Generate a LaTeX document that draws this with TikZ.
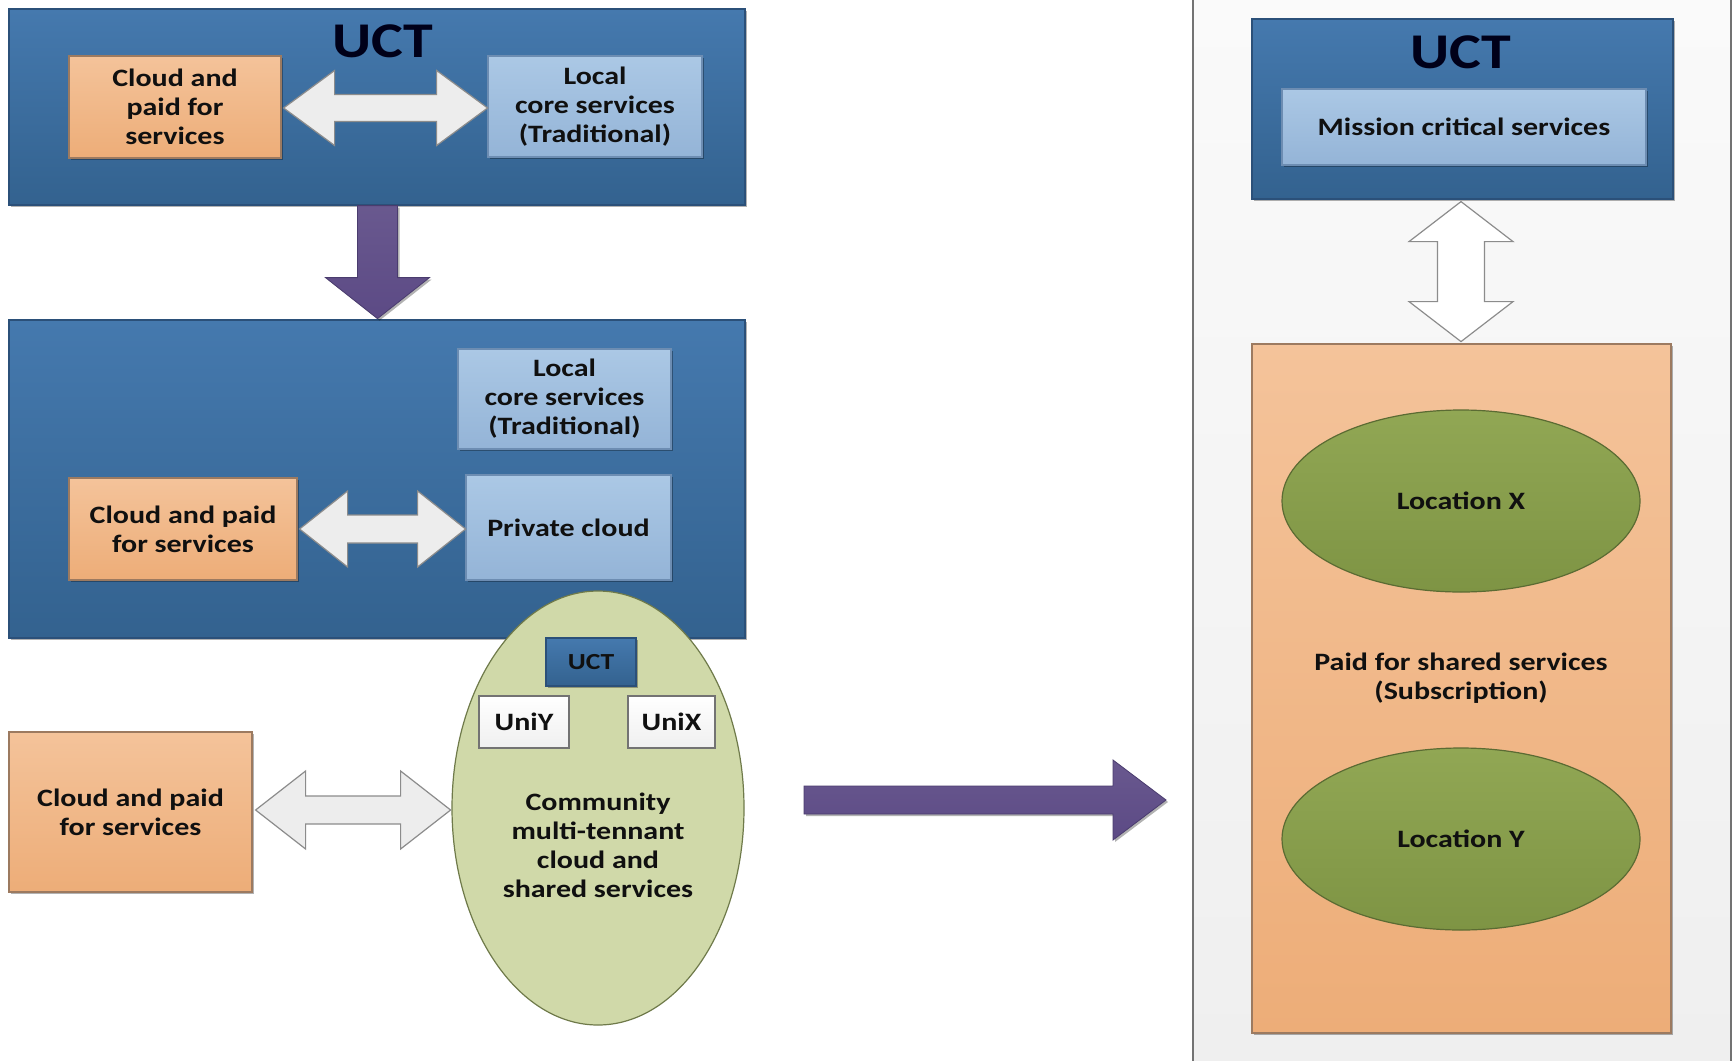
\documentclass[tikz,border=0pt]{standalone}
\usepackage{fontspec}
\setmainfont{Carlito}[FakeStretch=1.2]
\usetikzlibrary{shapes.geometric,calc,shadows}
\definecolor{dbtop}{HTML}{4579AE}
\definecolor{dbbot}{HTML}{33628F}
\definecolor{dbline}{HTML}{2B5079}
\definecolor{ortop}{HTML}{F4C39A}
\definecolor{orbot}{HTML}{EDAD78}
\definecolor{orline}{HTML}{9C7A60}
\definecolor{lbtop}{HTML}{ABC8E5}
\definecolor{lbbot}{HTML}{94B4D7}
\definecolor{lbline}{HTML}{6D8DB2}
\definecolor{commfill}{HTML}{D0D9A9}
\definecolor{commline}{HTML}{6F7A4A}
\definecolor{gtop}{HTML}{91A754}
\definecolor{gbot}{HTML}{7E9444}
\definecolor{gline}{HTML}{5B6B33}
\definecolor{purp}{HTML}{5C4A85}
\definecolor{purpline}{HTML}{4A3C6E}
\definecolor{arrfill}{HTML}{EDEDED}
\definecolor{arrline}{HTML}{8C8C8C}
\definecolor{txt}{HTML}{101010}
\definecolor{paneltop}{HTML}{FAFAFA}
\definecolor{panelbot}{HTML}{EFEFEF}
\newcommand{\hdarrow}[6]{\draw[#6] (#1) -- ++(#3,-#4) -- ++(0,#4-#5) -- ++(#2-2*#3,0) -- ++(0,-#4+#5) -- ++(#3,#4) -- ++(-#3,#4) -- ++(0,-#4+#5) -- ++(-#2+2*#3,0) -- ++(0,#4-#5) -- cycle;}
\newcommand{\vdarrow}[6]{\draw[#6] (#1) -- ++(#4,#3) -- ++(-#4+#5,0) -- ++(0,#2-2*#3) -- ++(#4-#5,0) -- ++(-#4,#3) -- ++(-#4,-#3) -- ++(#4-#5,0) -- ++(0,-#2+2*#3) -- ++(-#4+#5,0) -- cycle;}
\tikzset{
  shad/.style={drop shadow={shadow xshift=2pt,shadow yshift=-2pt,opacity=0.3,fill=black}},
  basetext/.style={align=center,text=txt,font=\fontsize{25}{29}\selectfont\bfseries,inner sep=0pt},
  bluebox/.style={rectangle,draw=dbline,line width=1.2pt,top color=dbtop,bottom color=dbbot,shad,basetext},
  orbox/.style={rectangle,draw=orline,line width=1.2pt,top color=ortop,bottom color=orbot,shad,basetext},
  lbbox/.style={rectangle,draw=lbline,line width=1.2pt,top color=lbtop,bottom color=lbbot,shad,basetext},
  unibox/.style={rectangle,draw=black!55,line width=1.2pt,top color=white,bottom color=black!6,basetext},
  commell/.style={ellipse,draw=commline,line width=1.2pt,fill=commfill,inner sep=0pt},
  locell/.style={ellipse,draw=gline,line width=1.2pt,top color=gtop,bottom color=gbot,basetext},
  title/.style={basetext,text=black!90!blue,font=\fontsize{50}{56}\selectfont\bfseries},
  plain/.style={basetext},
  lightarrow/.style={draw=arrline,line width=1.2pt,fill=arrfill,line join=miter},
  purparrow/.style={draw=purpline,line width=0.8pt,top color=purp!92!white,bottom color=purp,line join=miter,shad},
}
\begin{document}
\begin{tikzpicture}[x=1pt,y=-1pt]
\useasboundingbox[fill=white] (0,0) rectangle (1736,1060);
% ---------- left column ----------
\node[bluebox,minimum width=736pt,minimum height=196pt] (box1) at (377,107) {};
\node[title] (uct1) at (383,41) {UCT};
\node[orbox,minimum width=212pt,minimum height=102pt] (c1) at (175,107) {Cloud and\\paid for\\services};
\node[lbbox,minimum width=214pt,minimum height=101pt] (l1) at (595,106.5) {Local\\core services\\(Traditional)};
\hdarrow{$(c1.east)+(2,1)$}{204}{51}{37.5}{13.5}{lightarrow}

\node[bluebox,minimum width=736pt,minimum height=318pt] (box2) at (377,479) {};
% purple down arrow box1 -> box2
\draw[purparrow] ($(box1.south)+(0.5,0)$) ++(-20,0) -- ++(0,72) -- ++(-32,0) -- ++(52,41) -- ++(52,-41) -- ++(-32,0) -- ++(0,-72) -- cycle;

\node[lbbox,minimum width=213pt,minimum height=100pt] (l2) at (564.5,399) {Local\\core services\\(Traditional)};
\node[orbox,minimum width=228pt,minimum height=102pt] (c2) at (183,529) {Cloud and paid\\for services};
\node[lbbox,minimum width=205pt,minimum height=105pt] (p2) at (568.5,527.5) {Private cloud};
\hdarrow{$(c2.east)+(2,0)$}{166}{48}{38}{14}{lightarrow}

\node[commell,minimum width=292pt,minimum height=434pt] (comm) at (598,808) {};
\node[bluebox,minimum width=90pt,minimum height=48pt,font=\fontsize{23}{26}\selectfont\bfseries] (uctS) at (591,662) {UCT};
\node[unibox,minimum width=90pt,minimum height=52pt] (uniY) at (524,722) {UniY};
\node[unibox,minimum width=87pt,minimum height=52pt] (uniX) at (671.5,722) {UniX};
\node[plain] (commtxt) at (598,845) {Community\\multi-tennant\\cloud and\\shared services};

\node[orbox,minimum width=243pt,minimum height=160pt] (c3) at (130.5,812) {Cloud and paid\\for services};
\hdarrow{$(c3.east)+(3,-2)$}{195}{50}{39}{14}{lightarrow}

% big purple arrow to the right
\coordinate (ra) at (804,800);
\coordinate (rb) at (1166,800);
\draw[purparrow] (ra) ++(0,-14) -- ++(309,0) -- ++(0,-26) -- ($(rb)$) -- ++(-53,40) -- ++(0,-26) -- ++(-309,0) -- cycle;

% ---------- right panel ----------
\fill[top color=paneltop,bottom color=panelbot] (1193,-2) rectangle (1731,1062);
\draw[black!55,line width=1.5pt] (1193,-2) -- (1193,1062);
\draw[black!55,line width=1.5pt] (1731,-2) -- (1731,1062);

\node[bluebox,minimum width=421pt,minimum height=180pt] (boxR) at (1462.5,109) {};
\node[title] (uctR) at (1461,52) {UCT};
\node[lbbox,minimum width=364pt,minimum height=76pt] (mission) at (1464,127) {Mission critical services};

\node[orbox,minimum width=419pt,minimum height=689pt] (orR) at (1461.5,688.5) {};
\vdarrow{$(boxR.south)+(-1.5,2)$}{140}{40}{52}{23.5}{lightarrow,fill=white}

\node[locell,minimum width=358pt,minimum height=182pt] (locX) at (1461,501) {Location X};
\node[plain] (paid) at (1461,678) {Paid for shared services\\(Subscription)};
\node[locell,minimum width=358pt,minimum height=182pt] (locY) at (1461,839) {Location Y};
\end{tikzpicture}
\end{document}
